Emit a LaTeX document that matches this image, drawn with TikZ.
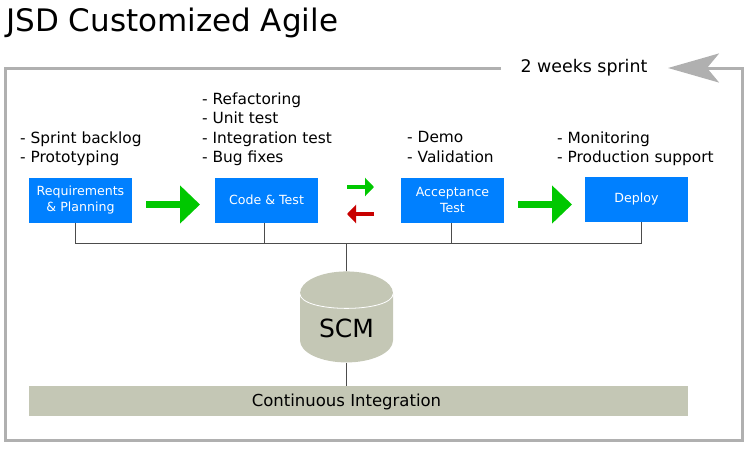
\documentclass[tikz,border=0pt]{standalone}
\usepackage{fontspec}
\setmainfont{DejaVu Sans}
\usetikzlibrary{arrows.meta,shapes.geometric}
\definecolor{stepblue}{HTML}{0080FF}
\definecolor{scmgray}{HTML}{C4C7B5}
\definecolor{framegray}{HTML}{B0B0B0}
\definecolor{gogreen}{HTML}{00C800}
\definecolor{backred}{HTML}{C80000}
\tikzset{
  stepbox/.style={fill=stepblue,text=white,font=\fontsize{12.6}{16}\selectfont,align=center,inner sep=0pt,minimum width=103pt,minimum height=45pt},
  notes/.style={anchor=north west,align=left,inner sep=0pt,font=\fontsize{15.4}{19.5}\selectfont},
  bigarrow/.style={-{Triangle[length=20pt,width=37pt]},line width=7pt,gogreen},
  smallarrow/.style={-{Triangle[length=9pt,width=18pt]},line width=3.5pt},
  busline/.style={draw=black!70,line width=0.9pt}
}
\begin{document}
\begin{tikzpicture}[x=1pt,y=-1pt]
\useasboundingbox (0,0) rectangle (750,450);
\node[anchor=west,inner sep=0pt,font=\fontsize{31}{36}\selectfont] (title) at (6,22.5) {JSD Customized Agile};
\node[inner sep=0pt,font=\fontsize{17.4}{20}\selectfont] (sprint) at (584,68) {2 weeks sprint};
\coordinate (framestart) at (501,68);
\coordinate (frametip) at (668,68);
\draw[framegray,line width=3pt,-{Stealth[length=51pt,width=29pt,inset=12pt]}] (framestart) -- (5,68) -- (5,440) -- (742,440) -- (742,68) -- (frametip);
\node[notes] (planlist) at (20,131.5) {- Sprint backlog\\- Prototyping};
\node[notes] (codelist) at (202,92.5) {- Refactoring\\- Unit test\\- Integration test\\- Bug fixes};
\node[notes] (acclist) at (407,131.5) {- Demo\\- Validation};
\node[notes] (deplist) at (557,131.5) {- Monitoring\\- Production support};
\node[stepbox] (req) at (80.5,200) {Requirements\\\& Planning};
\node[stepbox] (code) at (266.5,200) {Code \& Test};
\node[stepbox] (acc) at (452.5,200) {Acceptance\\Test};
\node[stepbox] (dep) at (636.5,199.5) {Deploy};
\coordinate (bus) at (346.5,243);
\node[cylinder,shape border rotate=90,aspect=0.8,fill=scmgray,inner sep=0pt,minimum width=93pt,minimum height=91pt,font=\fontsize{25}{30}\selectfont] (scm) at (346.5,328) {SCM};
\node[fill=scmgray,inner sep=0pt,minimum width=659pt,minimum height=30pt] (ci) at (358.5,401) {};
\node[inner sep=0pt,font=\fontsize{16.5}{20}\selectfont] (citext) at (346.5,402) {Continuous Integration};
\draw[white,line width=0.8pt] (scm.before top) .. controls ([yshift=-20pt]scm.before top) and ([yshift=-20pt]scm.after top) .. (scm.after top);
\draw[busline] ([xshift=-5.5pt]req.south) |- (bus);
\draw[busline] ([xshift=-2.5pt]code.south) |- (bus);
\draw[busline] ([xshift=-1.5pt]acc.south) |- (bus);
\draw[busline] ([xshift=4.5pt]dep.south) |- (bus);
\draw[busline] (bus) -- (scm.north);
\draw[busline] (scm.south) -- (scm.south |- ci.north);
\coordinate (bigastart) at (146,204.5);
\coordinate (bigaend) at (200,204.5);
\coordinate (bigbstart) at (518,204.5);
\coordinate (bigbend) at (572,204.5);
\coordinate (fwdstart) at (347,187);
\coordinate (fwdend) at (374,187);
\coordinate (backstart) at (374,214);
\coordinate (backend) at (347,214);
\draw[bigarrow] (bigastart) -- (bigaend);
\draw[bigarrow] (bigbstart) -- (bigbend);
\draw[smallarrow,gogreen] (fwdstart) -- (fwdend);
\draw[smallarrow,backred] (backstart) -- (backend);
\end{tikzpicture}
\end{document}
